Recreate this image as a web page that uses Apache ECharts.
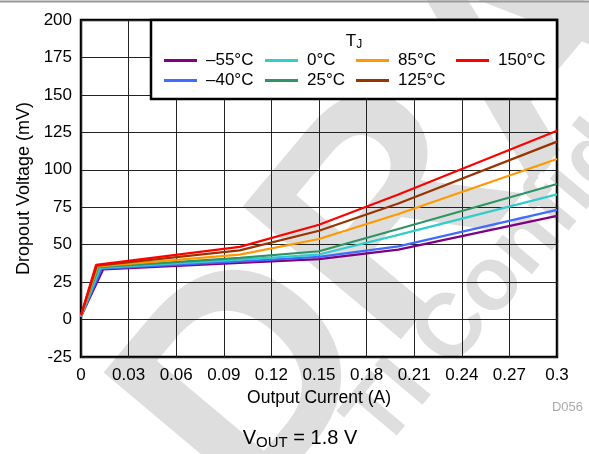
<!DOCTYPE html>
<html>
<head>
<meta charset="utf-8">
<script src="https://cdn.jsdelivr.net/npm/echarts@6/dist/echarts.min.js"></script>
<style>
  html, body { margin: 0; padding: 0; background: #fff; }
  #chart { width: 589px; height: 454px; }
</style>
</head>
<body>
<div id="chart"></div>
<script>
// Dropout voltage vs output current, one curve per junction temperature
var temps = ['–55°C', '–40°C', '0°C', '25°C', '85°C', '125°C', '150°C'];
var colors = ['#800080', '#3f6bff', '#33cccc', '#2e9466', '#ff9900', '#993300', '#ff0000'];

// first point at 0 A, then the knee, then the common currents
var startMv = [2, 2, 2, 2.5, 2.5, 3, 3];
var kneeA = [0.014, 0.013, 0.012, 0.011, 0.0105, 0.010, 0.0095];
var kneeMv = [33.5, 34, 34.5, 35, 35.5, 36, 36.5];
var currents = [0.1, 0.15, 0.2, 0.3];
var m55 = [37.8, 40.3, 46.7, 69.2];
var m40 = [38.9, 41.8, 48.9, 73.2];
var p0 = [40.0, 43.4, 56.5, 83.6];
var p25 = [41.2, 45.6, 60.5, 90.5];
var p85 = [43.4, 53.8, 70.5, 107.2];
var p125 = [46.2, 59.3, 77.5, 118.8];
var p150 = [48.5, 63.3, 83.5, 126.0];
var values = [m55, m40, p0, p25, p85, p125, p150];

var xTicks = [0, 0.03, 0.06, 0.09, 0.12, 0.15, 0.18, 0.21, 0.24, 0.27, 0.3];

var chart = echarts.init(document.getElementById('chart'));

var series = temps.map(function (t, i) {
    var pts = [[0, startMv[i]], [kneeA[i], kneeMv[i]]];
    for (var k = 0; k < currents.length; k++) {
        pts.push([currents[k], values[i][k]]);
    }
    return {
        name: t,
        type: 'line',
        data: pts,
        symbol: 'none',
        color: colors[i],
        lineStyle: { width: 2.2, color: colors[i] },
        z: 3 + i
    };
});

var font = 'Liberation Sans, Arial, sans-serif';
var legendBase = {
    orient: 'vertical',
    top: 47,
    z: 60,
    icon: 'rect',
    itemWidth: 33,
    itemHeight: 3,
    itemGap: 3,
    textStyle: { fontFamily: font, fontSize: 17, color: '#000', padding: [0, 0, 0, 4] }
};
function legendCol(left, names) {
    return Object.assign({}, legendBase, { left: left, data: names });
}

var wmFont = 'bold {s}px Liberation Sans, Arial, sans-serif';

chart.setOption({
    animation: false,
    textStyle: { fontFamily: font },
    grid: {
        left: 81, right: 32, top: 20, bottom: 97,
        show: true, borderColor: '#000', borderWidth: 2.5
    },
    xAxis: {
        type: 'value',
        min: 0, max: 0.3, interval: 0.03,
        name: 'Output Current (A)',
        nameLocation: 'middle',
        nameGap: 30,
        nameTextStyle: { fontSize: 17.5, color: '#000', fontFamily: font },
        axisLine: { show: false },
        axisTick: { show: false },
        axisLabel: {
            fontSize: 17, color: '#000', margin: 10,
            formatter: function (v) {
                var best = xTicks.reduce(function (a, b) { return Math.abs(b - v) < Math.abs(a - v) ? b : a; });
                return String(best);
            }
        },
        splitLine: { lineStyle: { color: '#222', width: 1 } }
    },
    yAxis: {
        type: 'value',
        min: -25, max: 200, interval: 25,
        name: 'Dropout Voltage (mV)',
        nameLocation: 'middle',
        nameGap: 47,
        nameTextStyle: { fontSize: 18, color: '#000', fontFamily: font },
        axisLine: { show: false },
        axisTick: { show: false },
        axisLabel: { fontSize: 17, color: '#000', margin: 9 },
        splitLine: { lineStyle: { color: '#222', width: 1 } }
    },
    legend: [
        legendCol(159, [temps[0], temps[1]]),
        legendCol(260, [temps[2], temps[3]]),
        legendCol(351, [temps[4], temps[5]]),
        legendCol(451, [temps[6]])
    ],
    graphic: [
        { type: 'line', shape: { x1: 0, y1: 1.5, x2: 589, y2: 1.5 }, style: { stroke: '#999', lineWidth: 2 }, z: 1 },
        {
            type: 'text', x: 512, y: 78, rotation: 0.873, z: -10,
            style: { text: 'DRAFT', font: wmFont.replace('{s}', 300), fill: '#dedede', align: 'center', verticalAlign: 'middle' }
        },
        {
            type: 'text', x: 565, y: 196, rotation: 0.873, z: -10,
            style: { text: 'TI Confidential', font: wmFont.replace('{s}', 90), fill: '#dedede', align: 'center', verticalAlign: 'middle' }
        },
        {
            type: 'rect', shape: { x: 151, y: 20, width: 406, height: 79 },
            style: { fill: '#fff', stroke: '#000', lineWidth: 2.5 }, z: 50
        },
        {
            type: 'text', x: 354, y: 41, z: 51,
            style: {
                text: '{a|T}{b|J}', align: 'center', verticalAlign: 'middle',
                rich: {
                    a: { fontSize: 17, fontFamily: font, fill: '#000' },
                    b: { fontSize: 12, fontFamily: font, fill: '#000', padding: [8, 0, 0, 0] }
                }
            }
        },
        {
            type: 'text', x: 583, y: 407, z: 51,
            style: { text: 'D056', font: '13px Liberation Sans, Arial, sans-serif', fill: '#aaa', align: 'right', verticalAlign: 'middle' }
        },
        {
            type: 'text', x: 300, y: 438, z: 51,
            style: {
                text: '{a|V}{b|OUT}{a| = 1.8 V}', align: 'center', verticalAlign: 'middle',
                rich: {
                    a: { fontSize: 20, fontFamily: font, fill: '#000' },
                    b: { fontSize: 15, fontFamily: font, fill: '#000', padding: [10, 0, 0, 0] }
                }
            }
        }
    ],
    series: series
});
</script>
</body>
</html>
